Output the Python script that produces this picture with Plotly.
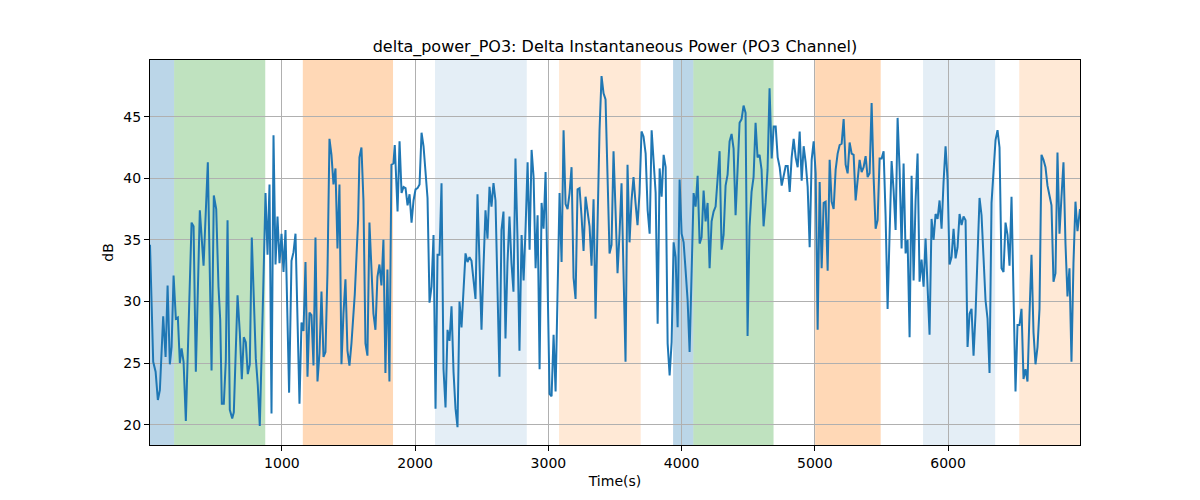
import plotly.graph_objects as go

# ---- data ----
t_a = [10, 34, 52, 69, 84, 109, 127, 142, 159, 172, 187, 204, 219, 234, 247, 262, 279, 322, 337, 354,
       384, 412, 444, 472, 489, 507, 524, 537, 549, 564, 579, 592, 609, 627, 639, 667, 684, 699, 714, 729,
       744, 759, 774, 804, 819, 834, 859, 877, 892, 907]
v_a = [34.6, 25.1, 24.3, 22.0, 22.8, 28.8, 25.5, 31.3, 24.9, 26.3, 32.1, 28.6, 28.7, 25.0, 26.2, 25.1, 20.3, 36.4, 36.1, 24.3,
       37.4, 32.9, 41.3, 24.4, 38.6, 37.5, 31.2, 28.5, 21.7, 21.7, 25.2, 36.6, 21.2, 20.5, 21.0, 30.5, 27.5, 23.7, 27.1, 26.7,
       24.1, 24.9, 35.2, 25.4, 23.2, 19.9, 30.6, 38.8, 33.8, 39.5]

t_b = [922, 937, 952, 967, 982, 997, 1012, 1027, 1054, 1072, 1087, 1102, 1132, 1147, 1162, 1177, 1192, 1207, 1222, 1237,
       1252, 1267, 1282, 1297, 1312, 1327, 1342, 1357, 1372, 1387, 1402, 1417, 1432, 1447, 1462, 1477, 1492, 1507, 1522, 1547,
       1572, 1582, 1597, 1612, 1627, 1642, 1657, 1672, 1687, 1702, 1717, 1732, 1747, 1762, 1777, 1792, 1807, 1822, 1837, 1847]
v_b = [20.9, 43.5, 33.0, 36.9, 33.1, 35.5, 32.4, 35.8, 22.6, 33.3, 34.0, 35.5, 21.7, 28.3, 27.6, 33.2, 23.9, 29.1, 28.9, 24.8,
       35.2, 23.5, 25.8, 30.8, 25.5, 25.9, 32.3, 43.2, 41.9, 39.5, 40.8, 34.3, 39.5, 24.9, 29.0, 31.8, 26.0, 24.8, 26.6, 30.6,
       36.6, 41.7, 42.5, 38.2, 26.6, 25.6, 36.4, 32.0, 29.0, 27.7, 32.0, 33.0, 31.3, 35.0, 24.2, 32.6, 23.5, 41.1, 41.2, 42.7]

t_c = [1868, 1883, 1898, 1913, 1928, 1943, 1958, 1973, 1988, 2003, 2018, 2033, 2048, 2063, 2078, 2093, 2108, 2123, 2138, 2153,
       2168, 2183, 2198, 2213, 2228, 2243, 2258, 2273, 2288, 2303, 2318, 2333, 2348, 2363, 2378, 2393, 2408, 2423, 2438, 2453,
       2468, 2483, 2498, 2513, 2528, 2543, 2558, 2573, 2588, 2603, 2618, 2633, 2648, 2663, 2678, 2693, 2708, 2723, 2738, 2753,
       2768, 2783]
v_c = [37.3, 43.0, 38.8, 39.3, 39.2, 37.8, 38.7, 36.4, 38.2, 39.1, 39.2, 39.5, 43.7, 42.6, 40.3, 38.4, 29.9, 31.2, 35.4, 21.3,
       33.8, 33.8, 39.6, 24.5, 21.4, 27.7, 26.8, 29.6, 24.3, 21.3, 19.8, 30.0, 27.9, 30.8, 33.9, 33.2, 33.6, 33.3, 31.4, 30.2,
       38.7, 32.8, 27.7, 32.8, 37.4, 35.1, 39.3, 37.7, 39.6, 38.2, 31.7, 23.9, 35.8, 37.3, 27.0, 33.1, 36.9, 33.1, 30.8, 41.6,
       35.2, 26.0]

t_d = [2799, 2814, 2829, 2844, 2859, 2874, 2889, 2904, 2919, 2934, 2949, 2964, 2979, 2994, 3009, 3024, 3039, 3054, 3069, 3084,
       3099, 3114, 3129, 3144, 3159, 3174, 3189, 3204, 3219, 3234, 3249, 3264, 3279, 3294, 3309, 3324, 3339, 3354, 3369, 3384,
       3399, 3414, 3429, 3444, 3459, 3474, 3489, 3504, 3519, 3534, 3549, 3564, 3579, 3594, 3609, 3624, 3639, 3654, 3669, 3684,
       3699, 3714]
v_d = [35.4, 31.7, 36.0, 41.3, 34.2, 42.3, 40.1, 32.7, 37.0, 24.5, 38.0, 35.9, 40.5, 30.9, 22.5, 22.3, 27.3, 22.7, 30.5, 38.8,
       33.2, 43.9, 37.9, 37.5, 38.8, 40.9, 31.9, 30.2, 39.1, 39.2, 36.9, 34.1, 38.5, 37.3, 36.1, 32.9, 38.3, 28.6, 36.6, 43.9,
       48.3, 46.9, 46.4, 39.6, 33.9, 34.6, 42.2, 37.4, 32.3, 35.5, 39.6, 32.3, 25.1, 41.1, 34.8, 38.2, 40.1, 38.0, 36.2, 38.8,
       43.8, 43.4]

t_e = [3730, 3745, 3760, 3775, 3790, 3805, 3820, 3835, 3850, 3865, 3880, 3895, 3910, 3925, 3940, 3955, 3970, 3985, 4000, 4015,
       4030, 4045, 4060, 4075, 4090, 4105, 4120, 4135, 4150, 4165, 4180, 4195, 4210, 4225, 4240, 4255, 4270, 4285, 4300, 4315,
       4330, 4345, 4360, 4375, 4390, 4405, 4420, 4435, 4450, 4465, 4480, 4495, 4510, 4525, 4540, 4555, 4570, 4585, 4600, 4615,
       4630, 4645, 4660]
v_e = [42.0, 37.4, 35.5, 43.9, 41.2, 38.8, 28.2, 40.8, 38.5, 41.9, 40.9, 26.6, 24.0, 26.7, 34.8, 33.6, 27.9, 39.9, 35.5, 34.8,
       32.5, 30.1, 25.9, 33.6, 38.8, 37.7, 40.2, 34.7, 35.2, 39.0, 36.5, 38.0, 32.7, 36.5, 37.3, 37.7, 39.7, 42.2, 34.2, 35.4,
       39.4, 40.3, 43.0, 43.6, 42.4, 37.0, 40.7, 44.5, 44.8, 45.9, 45.3, 27.2, 36.1, 38.9, 40.1, 44.5, 41.7, 41.9, 40.7, 36.1,
       38.0, 40.7, 47.3]

t_f = [4676, 4691, 4706, 4721, 4736, 4751, 4766, 4781, 4796, 4811, 4826, 4841, 4856, 4871, 4886, 4901, 4916, 4931, 4946, 4961,
       4976, 4991, 5006, 5021, 5036, 5051, 5066, 5081, 5096, 5111, 5126, 5141, 5156, 5171, 5186, 5201, 5216, 5231, 5246, 5261,
       5276, 5291, 5306, 5321, 5336, 5351, 5366, 5381, 5396, 5411, 5426, 5441, 5456, 5471, 5486, 5501, 5516, 5531, 5546, 5561,
       5576, 5591]
v_f = [41.6, 44.2, 44.2, 41.7, 40.9, 39.4, 40.1, 41.0, 41.0, 38.9, 41.7, 43.2, 41.7, 40.9, 43.8, 39.8, 42.6, 41.3, 39.3, 34.4,
       41.5, 43.0, 40.4, 27.7, 39.7, 32.7, 38.0, 38.1, 32.5, 41.5, 38.1, 37.5, 40.7, 42.0, 42.7, 42.8, 44.8, 41.1, 40.4, 42.9,
       42.0, 41.9, 38.2, 39.6, 41.5, 40.5, 40.9, 41.8, 40.1, 40.4, 46.1, 40.1, 35.9, 36.6, 41.6, 41.6, 42.2, 36.9, 29.4, 35.5,
       41.4, 39.0]

t_g = [5606, 5621, 5636, 5651, 5666, 5681, 5696, 5711, 5726, 5741, 5756, 5771, 5786, 5801, 5816, 5831, 5846, 5861, 5876, 5891,
       5906, 5921, 5936, 5951, 5966, 5981, 5996, 6011, 6026, 6041, 6056, 6071, 6086, 6101, 6116, 6131, 6146, 6161, 6176, 6191,
       6206, 6221, 6236, 6251, 6266, 6281, 6296, 6311, 6326, 6341, 6356, 6371, 6386, 6401, 6416, 6431, 6446, 6461, 6476, 6491,
       6506, 6521, 6536]
v_g = [35.8, 44.9, 40.7, 34.3, 41.2, 33.9, 35.0, 27.1, 40.2, 31.7, 38.2, 42.0, 31.6, 33.4, 31.2, 35.1, 30.9, 27.3, 36.7, 35.0,
       37.1, 36.7, 38.2, 35.9, 39.7, 42.6, 39.9, 33.0, 33.6, 35.9, 33.5, 34.4, 37.1, 36.2, 36.9, 36.6, 26.3, 29.0, 29.4, 25.6,
       29.0, 33.9, 38.4, 37.0, 33.3, 30.1, 28.6, 24.2, 38.0, 40.4, 43.1, 43.9, 42.5, 32.7, 32.4, 36.4, 35.4, 32.9, 38.5, 30.6,
       22.7, 28.1, 28.1]

t_h = [6551, 6566, 6581, 6596, 6611, 6626, 6641, 6656, 6671, 6686, 6701, 6716, 6731, 6746, 6761, 6776, 6791, 6806, 6821, 6836,
       6851, 6866, 6881, 6896, 6911, 6926, 6941, 6956, 6971, 6990]
v_h = [29.4, 23.7, 24.5, 23.5, 29.0, 33.8, 27.5, 24.9, 26.3, 29.4, 41.9, 41.5, 40.9, 39.4, 38.6, 37.8, 31.6, 32.3, 42.1, 35.5,
       38.5, 41.3, 34.7, 30.4, 32.7, 25.1, 33.1, 38.1, 35.7, 37.5]

# shaded segments: start, end, colour, opacity
seg_start = [10, 191, 1157, 2149, 3080, 3936, 4088, 5002, 5812, 6534]
seg_end = [191, 875, 1834, 2838, 3693, 4088, 4690, 5494, 6353, 6990]
seg_color = ["#1f77b4", "#2ca02c", "#ff7f0e", "#1f77b4", "#ff7f0e", "#1f77b4", "#2ca02c", "#ff7f0e", "#1f77b4", "#ff7f0e"]
seg_alpha = [0.3, 0.3, 0.3, 0.12, 0.17, 0.3, 0.3, 0.3, 0.12, 0.17]

x_ticks = [1000, 2000, 3000, 4000, 5000, 6000]
y_ticks = [20, 25, 30, 35, 40, 45]

times = t_a + t_b + t_c + t_d + t_e + t_f + t_g + t_h
values = v_a + v_b + v_c + v_d + v_e + v_f + v_g + v_h
assert len(times) == len(values)

fig = go.Figure()
fig.add_trace(go.Scatter(x=times, y=values, mode="lines",
                         line=dict(color="#1f77b4", width=2), showlegend=False))

for s, e, c, a in zip(seg_start, seg_end, seg_color, seg_alpha):
    fig.add_vrect(x0=s, x1=e, fillcolor=c, opacity=a, line_width=0, layer="below")

font = "DejaVu Sans"
fig.update_layout(
    width=1200, height=500,
    margin=dict(l=142, r=128, t=52, b=63),
    paper_bgcolor="white", plot_bgcolor="white",
    font=dict(family=font, size=14, color="black"),
    title=dict(text="delta_power_PO3: Delta Instantaneous Power (PO3 Channel)",
               x=0.5, xref="paper", xanchor="center",
               y=1 - 38 / 500, yref="container", yanchor="middle",
               font=dict(family=font, size=16, color="black")),
)
fig.update_xaxes(range=[10, 6990], tickvals=x_ticks, ticktext=[str(v) for v in x_ticks],
                 showgrid=True, gridcolor="#b0b0b0", gridwidth=1,
                 showline=True, linecolor="black", linewidth=1, mirror=True,
                 ticks="outside", ticklen=5, tickcolor="black", zeroline=False,
                 title=dict(text="Time(s)", standoff=6, font=dict(size=14)))
fig.update_yaxes(range=[18.35, 49.6], tickvals=y_ticks, ticktext=[str(v) for v in y_ticks],
                 showgrid=True, gridcolor="#b0b0b0", gridwidth=1,
                 showline=True, linecolor="black", linewidth=1, mirror=True,
                 ticks="outside", ticklen=5, tickcolor="black", zeroline=False,
                 title=dict(text="dB", standoff=6, font=dict(size=14)))

fig.write_html("out.html")
